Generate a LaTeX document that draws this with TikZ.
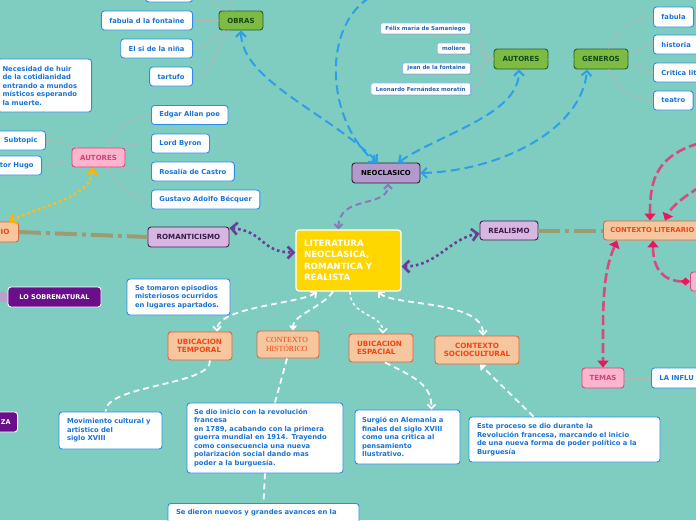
\documentclass[tikz,border=0pt]{standalone}
\usepackage{fontspec}
\setmainfont{DejaVu Sans}
\newfontfamily\serifff{Liberation Serif}
\usetikzlibrary{arrows.meta,shadows}
\definecolor{bg}{RGB}{126,205,192}
\definecolor{bluel}{RGB}{46,158,230}
\definecolor{txtblue}{RGB}{26,115,215}
\definecolor{boxblue}{RGB}{45,140,235}
\definecolor{gfill}{RGB}{125,187,66}
\definecolor{gdraw}{RGB}{40,95,40}
\definecolor{gtext}{RGB}{20,70,30}
\definecolor{ofill}{RGB}{246,198,158}
\definecolor{odraw}{RGB}{232,96,58}
\definecolor{otext}{RGB}{240,70,20}
\definecolor{pfill}{RGB}{255,180,206}
\definecolor{pdraw}{RGB}{208,74,122}
\definecolor{ptext}{RGB}{200,70,122}
\definecolor{lavfill}{RGB}{216,182,226}
\definecolor{lavdraw}{RGB}{64,32,80}
\definecolor{lavtext}{RGB}{58,26,74}
\definecolor{neofill}{RGB}{179,153,205}
\definecolor{dpfill}{RGB}{106,14,140}
\definecolor{yel}{RGB}{255,215,0}
\definecolor{purd}{RGB}{139,118,194}
\definecolor{purdot}{RGB}{106,61,154}
\definecolor{olive}{RGB}{156,155,116}
\definecolor{pinkl}{RGB}{212,76,125}
\definecolor{pinkt}{RGB}{232,25,90}
\definecolor{yeld}{RGB}{242,190,46}
\definecolor{yelt}{RGB}{255,179,0}
\definecolor{greyl}{RGB}{176,184,182}
\definecolor{knob}{RGB}{185,160,204}
\definecolor{smalltxt}{RGB}{40,100,180}
\definecolor{smalldraw}{RGB}{140,190,230}
\tikzset{
  nbox/.style={rectangle, rounded corners=3pt, line width=0.9pt, inner sep=0pt, align=center},
  greenbox/.style={nbox, fill=gfill, draw=gdraw, text=gtext, font=\bfseries\fontsize{7}{8}\selectfont},
  orangebox/.style={nbox, fill=ofill, draw=odraw, text=otext, font=\bfseries\fontsize{7.2}{8}\selectfont},
  pinkbox/.style={nbox, fill=pfill, draw=pdraw, text=ptext, font=\bfseries\fontsize{7}{8}\selectfont},
  lavbox/.style={nbox, fill=lavfill, draw=lavdraw, text=lavtext, font=\bfseries\fontsize{7.1}{8}\selectfont},
  darkbox/.style={nbox, fill=dpfill, draw=white, text=white, font=\bfseries\fontsize{6.5}{8}\selectfont},
  leafbox/.style={nbox, fill=white, draw=boxblue, text=txtblue, font=\bfseries\fontsize{6.8}{8.5}\selectfont, inner xsep=8pt, minimum height=19pt},
  notebox/.style={nbox, fill=white, draw=boxblue, text=txtblue, font=\bfseries\fontsize{6.8}{8.5}\selectfont, align=left, inner xsep=8pt, inner ysep=5pt},
  tinyleaf/.style={nbox, rounded corners=2pt, line width=0.8pt, fill=white, draw=smalldraw, text=smalltxt, font=\bfseries\fontsize{5.5}{6}\selectfont, inner xsep=5pt, minimum height=11pt, drop shadow={shadow xshift=0.8pt, shadow yshift=-0.8pt, opacity=0.3, fill=black!60}},
  greyline/.style={draw=greyl, line width=0.9pt},
  bluecon/.style={draw=bluel, line width=2pt, dash pattern=on 9pt off 5pt},
  purdash/.style={draw=purd, line width=2pt, dash pattern=on 6pt off 4pt},
  purdotted/.style={draw=purdot, line width=2.6pt, dash pattern=on 2.6pt off 3pt},
  olivecon/.style={draw=olive, line width=4pt, dash pattern=on 22pt off 5pt on 4pt off 5pt},
  whitecon/.style={draw=white, line width=1.8pt, dash pattern=on 6pt off 4pt},
  whitedot/.style={draw=white, line width=1.6pt, dash pattern=on 3pt off 3pt},
  pinkcon/.style={draw=pinkl, line width=2.6pt, dash pattern=on 10pt off 4pt},
  yelcon/.style={draw=yeld, line width=2.6pt, dash pattern=on 2.6pt off 3pt},
  btip/.tip={Straight Barb[length=5pt,width=10pt]},
  pstip/.tip={Straight Barb[length=4pt,width=8pt]},
  ptip/.tip={Straight Barb[length=6pt,width=12pt]},
  wtip/.tip={Straight Barb[length=4pt,width=8pt]},
  wtri/.tip={Triangle[length=5pt,width=8pt]},
  ktri/.tip={Triangle[length=7pt,width=11pt,color=pinkt]},
  kdia/.tip={Diamond[length=9pt,width=8pt,color=pinkt]},
  ytip/.tip={Straight Barb[length=5pt,width=10pt,color=yelt]},
}
\begin{document}
\begin{tikzpicture}[x=1pt,y=-1pt]
\useasboundingbox (0,0) rectangle (696,520);
\clip (0,0) rectangle (696,520);
\fill[bg] (0,0) rectangle (696,520);

% central
\node[nbox, fill=yel, draw=white, line width=1.2pt, text=white, font=\bfseries\fontsize{8.7}{11.3}\selectfont, align=left, text width=89pt, inner xsep=8pt, minimum height=61pt] (c) at (348.5,260.5) {LITERATURA\\NEOCLASICA,\\ROMANTICA Y\\REALISTA};

% main branches
\node[nbox, fill=neofill, draw=black!85, text=black, font=\bfseries\fontsize{6.9}{8}\selectfont, minimum width=68pt, minimum height=20pt] (neo) at (386,173) {NEOCLASICO};
\node[lavbox, minimum width=81pt, minimum height=20pt] (rom) at (188.5,237) {ROMANTICISMO};
\node[lavbox, minimum width=58pt, minimum height=19pt] (real) at (509,230.5) {REALISMO};

% neoclasico
\node[greenbox, minimum width=44pt, minimum height=19pt] (obras) at (241,20.5) {OBRAS};
\node[greenbox, minimum width=54pt, minimum height=20pt] (autn) at (521,59) {AUTORES};
\node[greenbox, minimum width=54pt, minimum height=20pt] (gen) at (601,59) {GENEROS};

\node[tinyleaf, anchor=east] (fel) at (471,28.5) {Félix maría de Samaniego};
\node[tinyleaf, anchor=east] (mol) at (471,48.5) {moliere};
\node[tinyleaf, anchor=east] (jean) at (471,68.5) {jean de la fontaine};
\node[tinyleaf, anchor=east, minimum height=12pt] (leo) at (471,89) {Leonardo Fernández moratín};

\node[leafbox, anchor=west, minimum height=20pt] (fab) at (653,17) {fabula};
\node[leafbox, anchor=west] (hist) at (653,44.5) {historia};
\node[leafbox, anchor=west] (crit) at (653,72.5) {Critica lit};
\node[leafbox, anchor=west] (teatro) at (653,100.5) {teatro};

\node[leafbox, anchor=east, minimum width=47pt, minimum height=20pt] (obtop) at (193,-8) {};
\node[leafbox, anchor=east] (fdlf) at (193,20.5) {fabula d la fontaine};
\node[leafbox, anchor=east] (si) at (193,48.5) {El si de la niña};
\node[leafbox, anchor=east] (tart) at (193,76.5) {tartufo};
\coordinate (obup) at (222,-20);
\coordinate (topb) at (395,-12);

% romanticismo
\node[pinkbox, minimum width=53pt, minimum height=19pt] (auta) at (98.5,157.5) {AUTORES};
\node[leafbox, anchor=west] (edgar) at (151,115) {Edgar Allan poe};
\node[leafbox, anchor=west] (byron) at (151,143.5) {Lord Byron};
\node[leafbox, anchor=west] (rosal) at (151,171.5) {Rosalía de Castro};
\node[leafbox, anchor=west] (gust) at (151,199.5) {Gustavo Adolfo Bécquer};
\node[leafbox, anchor=east] (subt) at (46,140.5) {Subtopic};
\node[leafbox, anchor=east, text width=50pt, align=right] (hugo) at (42,165.5) {tor Hugo};
\node[notebox, anchor=east, text width=84pt, inner xsep=5pt, minimum height=53pt] (nec) at (92,85.5) {Necesidad de huir\\de la cotidianidad\\entrando a mundos\\místicos esperando\\la muerte.};

\node[orangebox, anchor=east, text width=40pt, align=right, inner xsep=9pt, minimum height=20pt] (io) at (19,232) {IO};

\node[circle, fill=knob, minimum size=11pt, inner sep=0pt] (knobn) at (3,297) {};
\node[darkbox, minimum width=93pt, minimum height=20pt] (sob) at (54.5,297) {LO SOBRENATURAL};
\node[notebox, text width=87pt, minimum height=36pt] (sobtext) at (178.5,297) {Se tomaron episodios\\misteriosos ocurridos\\en lugares apartados.};
\node[darkbox, anchor=east, text width=40pt, align=right, inner xsep=7pt, minimum height=20pt] (za) at (18,422) {ZA};

% contexts
\node[orangebox, align=left, text width=46pt, inner xsep=9pt, minimum height=28pt] (ut) at (200,346) {UBICACION\\TEMPORAL};
\node[nbox, fill=ofill, draw=odraw, text=otext, font=\serifff\fontsize{7.8}{8.5}\selectfont, align=left, text width=44pt, inner xsep=9pt, minimum height=27pt] (ch) at (288,344.5) {CONTEXTO\\HISTÓRICO};
\node[orangebox, align=left, text width=48pt, inner xsep=8pt, minimum height=28pt] (ue) at (381,348) {UBICACION\\ESPACIAL};
\node[orangebox, minimum width=84pt, minimum height=28pt] (cs) at (477,350) {CONTEXTO\\SOCIOCULTURAL};

\node[notebox, text width=87pt, minimum height=37pt] (mov) at (110.5,430.5) {Movimiento cultural y\\artistico del\\siglo XVIII};
\node[notebox, text width=142pt, inner xsep=7pt, minimum height=70pt] (sedio) at (265,438) {Se dio inicio con la revolución\\francesa\\en 1789, acabando con la primera\\guerra mundial en 1914. Trayendo\\como consecuencia una nueva\\polarización social dando mas\\poder a la burguesía.};
\node[notebox, text width=91pt, inner xsep=7pt, minimum height=54pt] (surg) at (407.5,437) {Surgió en Alemania a\\finales del siglo XVIII\\como una critica al\\pensamiento\\Ilustrativo.};
\node[notebox, text width=175pt, minimum height=45pt] (este) at (564.5,439.5) {Este proceso se dio durante la\\Revolución francesa, marcando el inicio\\de una nueva forma de poder político a la\\Burguesía};
\node[notebox, anchor=north, text width=175pt, inner ysep=6pt, text depth=24pt] (dieron) at (263.5,503) {Se dieron nuevos y grandes avances en la};

% realismo
\node[orangebox, anchor=west, font=\bfseries\fontsize{6.8}{8}\selectfont, text width=100pt, align=left, inner xsep=7pt, minimum height=19pt] (cl) at (603,230.5) {CONTEXTO LITERARIO};
\node[pinkbox, anchor=west, minimum width=30pt, minimum height=19pt] (pinkr) at (690,281.5) {};
\node[pinkbox, minimum width=42pt, minimum height=20pt] (temas) at (603,378) {TEMAS};
\node[leafbox, anchor=west, text width=60pt, align=left, minimum height=20pt] (lainf) at (651,378) {LA INFLU};
\coordinate (pk1) at (712,140);
\coordinate (pk2) at (712,180);

% grey connectors
\draw[greyline] (obras.west) -- (fdlf.east);
\draw[greyline] ([xshift=6pt]obras.south west) to[out=200,in=0] (si.east);
\draw[greyline] ([xshift=10pt]obras.south west) to[out=230,in=0] (tart.east);
\draw[greyline] ([xshift=8pt]obras.north west) to[out=150,in=0] (obtop.east);
\draw[greyline] ([xshift=14pt]obras.north west) to[out=110,in=-60] (obup);
\foreach \n in {fel,mol,jean,leo} \draw[greyline] (autn.west) to[out=180,in=0] (\n.east);
\draw[greyline] (autn.east) -- (gen.west);
\draw[greyline] ([xshift=-20pt]gen.north east) to[out=60,in=180] (fab.west);
\draw[greyline] ([yshift=4pt]gen.east) to[out=10,in=180] (hist.west);
\draw[greyline] ([yshift=-4pt]gen.east) to[out=-10,in=180] (crit.west);
\draw[greyline] ([xshift=-20pt]gen.south east) to[out=-60,in=180] (teatro.west);
\draw[greyline] ([xshift=-18pt]auta.north east) to[out=60,in=180] (edgar.west);
\draw[greyline] ([xshift=-4pt]auta.north east) to[out=20,in=180] (byron.west);
\draw[greyline] ([xshift=-4pt]auta.south east) to[out=-20,in=180] (rosal.west);
\draw[greyline] ([xshift=-18pt]auta.south east) to[out=-60,in=180] (gust.west);
\draw[greyline] ([xshift=6pt]auta.north west) to[out=160,in=0] (subt.east);
\draw[greyline] ([yshift=-4pt]auta.west) to[out=180,in=0] (hugo.east);
\draw[greyline] (sob.east) -- (sobtext.west);
\draw[greyline] (temas.east) -- (lainf.west);

% blue connectors
\draw[bluecon, btip-btip] ([xshift=12pt]neo.north) .. controls +(45,-30) and +(0,45) .. ([xshift=-2pt]autn.south);
\draw[bluecon, btip-btip] (neo.east) .. controls +(80,-2) and +(-5,60) .. ([xshift=-14pt]gen.south);
\draw[bluecon, btip-btip] (obras.south) .. controls +(0,50) and +(-50,-50) .. ([xshift=-8pt]neo.north);
\draw[bluecon, -btip] (topb) .. controls (320,0) and (320,115) .. ([xshift=-10pt]neo.north);

% purple connectors
\draw[purdash, pstip-pstip] ([xshift=-10pt]c.north) .. controls +(0,-35) and +(0,25) .. ([xshift=2pt]neo.south);
\draw[purdotted, ptip-ptip] ([yshift=9pt]rom.east) .. controls +(35,3) and +(-35,0) .. ([yshift=8pt]c.west);
\draw[purdotted, ptip-ptip] ([yshift=-6pt]c.east) .. controls +(35,0) and +(-30,5) .. ([yshift=-3pt]real.west);

% olive dash-dot
\draw[olivecon] (io.east) -- (rom.west);
\draw[olivecon] (real.east) -- (cl.west);

% yellow dotted
\draw[yelcon, ytip-ytip] ([xshift=-10pt]io.north east) .. controls +(30,-15) and +(0,30) .. ([xshift=-6pt]auta.south);

% white connectors
\draw[whitecon, wtip-wtip] ([xshift=-31.5pt]c.south) .. controls +(-15,12) and +(0,-25) .. ([xshift=17pt]ut.north);
\draw[whitecon, -wtri] ([xshift=-15.5pt]c.south) .. controls +(-10,15) and +(0,-15) .. ([xshift=5pt]ch.north);
\draw[whitedot, -wtip] ([xshift=1.5pt]c.south) .. controls +(0,25) and +(0,-20) .. ([xshift=2pt]ue.north);
\draw[whitecon, wtip-wtip] ([xshift=29.5pt]c.south) .. controls +(15,15) and +(0,-36) .. ([xshift=6pt]cs.north);
\draw[whitecon] ([xshift=10pt]ut.south) .. controls +(2,25) and +(0,-27) .. ([xshift=-5pt]mov.north);
\draw[whitecon] ([xshift=-1pt]ch.south) -- ([xshift=10pt]sedio.north);
\draw[whitecon] (sedio.south) -- (dieron.north);
\draw[whitecon, -wtip] ([xshift=4pt]ue.south) .. controls +(30,15) and +(0,-25) .. ([xshift=24pt]surg.north);
\draw[whitecon, -wtri] ([xshift=-31pt]este.north) -- ([xshift=3pt]cs.south);

% pink connectors
\draw[pinkcon, ktri-ktri] ([xshift=14pt]cl.south west) .. controls +(-15,35) and +(0,-60) .. (temas.north);
\draw[pinkcon, ktri-kdia] ([xshift=50pt]cl.south west) .. controls +(0,35) and +(-20,0) .. (pinkr.west);
\draw[pinkcon, -ktri] (pk1) .. controls (655,152) and (650,180) .. ([xshift=47pt]cl.north west);
\draw[pinkcon, -ktri] (pk2) .. controls (690,192) and (672,205) .. ([xshift=62pt]cl.north west);
\end{tikzpicture}
\end{document}
